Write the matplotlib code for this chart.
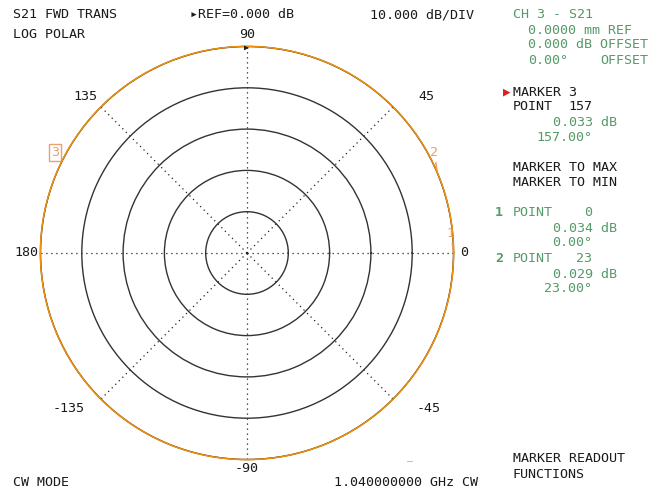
import numpy as np
import matplotlib
matplotlib.use('Agg')
import matplotlib.pyplot as plt

W, H = 652, 488

# trace: S21 magnitude (dB) vs phase (deg), CW mode
trace_deg = [0, 23, 45, 90, 135, 157, 180, 225, 270, 315, 360]
trace_db = [0.034, 0.029, 0.031, 0.030, 0.032, 0.033, 0.032, 0.031, 0.030, 0.032, 0.034]

marker_ids = [1, 2, 3]
marker_points = [0, 23, 157]
marker_db = [0.034, 0.029, 0.033]
marker_deg = [0.0, 23.0, 157.0]

ref_db = 0.0
db_per_div = 10.0
n_div = 5

angle_labels = ['0', '45', '90', '135', '180', '-135', '-90', '-45']

BLACK = '#1a1a1a'
GREEN = '#559a68'
ORANGE = '#f0900a'
ORANGE_TXT = '#eaa070'
MONO = ['DejaVu Sans Mono', 'DejaVu Sans']
FS = 9.6


def px(x, y):
    return x / W, 1 - y / H


def txt(x, y, s, color=BLACK, ha='left', **kw):
    fx, fy = px(x, y)
    fig.text(fx, fy, s, color=color, ha=ha, va='center',
             family=MONO, fontsize=FS, **kw)


fig = plt.figure(figsize=(W / 100, H / 100), dpi=100)
cx, cy, R = 247, 253, 206.5
left, top = px(cx - R, cy - R)
ax = fig.add_axes([left, top - 2 * R / H, 2 * R / W, 2 * R / H], projection='polar')

ax.set_ylim(ref_db - n_div * db_per_div, ref_db)
ax.set_yticks([ref_db - k * db_per_div for k in range(1, n_div)])
ax.set_xticks(np.deg2rad(np.arange(0, 360, 45)))
ax.set_xticklabels([])
ax.set_yticklabels([])
ax.yaxis.grid(True, color='#333333', linestyle='-', linewidth=1.0)
ax.xaxis.grid(True, color='#222222', linestyle=(0, (1, 3)), linewidth=0.9)
ax.tick_params(length=0)
ax.spines['polar'].set_color(BLACK)
ax.spines['polar'].set_linewidth(1.0)

line, = ax.plot(np.deg2rad(trace_deg), trace_db, color=ORANGE, lw=1.1,
                clip_on=False, zorder=5)
line.get_path()._interpolation_steps = 60

for mid, mdeg, mdb in zip(marker_ids, marker_deg, marker_db):
    th = np.deg2rad(mdeg)
    if mid == 3:
        ax.annotate(str(mid), xy=(th, mdb), xytext=(-1, 14), textcoords='offset points',
                    ha='center', va='center', color=ORANGE_TXT, family=MONO, fontsize=FS,
                    annotation_clip=False,
                    bbox=dict(boxstyle='square,pad=0.15', fc='none', ec=ORANGE_TXT, lw=1.0))
    else:
        ax.annotate(str(mid), xy=(th, mdb), xytext=(-2, 14), textcoords='offset points',
                    ha='center', va='center', color=ORANGE_TXT, family=MONO, fontsize=FS,
                    annotation_clip=False,
                    arrowprops=dict(arrowstyle='-', color=ORANGE_TXT, lw=1.2,
                                    shrinkA=0.5, shrinkB=0.5))

# angle labels
txt(460, 253, angle_labels[0])
txt(418, 97, angle_labels[1])
txt(247, 35, angle_labels[2], ha='center')
txt(73, 97, angle_labels[3])
txt(14, 252, angle_labels[4])
txt(53, 408, angle_labels[5])
txt(247, 468, angle_labels[6], ha='center')
txt(417, 408, angle_labels[7])

# ref arrow at top
fx, fy = px(246, 47)
fig.text(fx, fy, '\u25b6', color=BLACK, ha='center', va='center', fontsize=6, family=MONO)

# header
txt(13, 15, 'S21 FWD TRANS')
txt(13, 35, 'LOG POLAR')
txt(190, 15, '\u25b8REF=%.3f dB' % ref_db)
txt(370, 15, '%.3f dB/DIV' % db_per_div)

# right panel
txt(513, 15, 'CH 3 - S21', color=GREEN)
txt(528, 30, '0.0000 mm REF', color=GREEN)
txt(528, 45, '0.000 dB OFFSET', color=GREEN)
txt(528, 60, '0.00\u00b0', color=GREEN)
txt(648, 60, 'OFFSET', color=GREEN, ha='right')

fx, fy = px(507, 92)
fig.text(fx, fy, '\u25b6', color='#e02020', ha='center', va='center', fontsize=9, family=MONO)
txt(513, 92, 'MARKER %d' % marker_ids[2])
txt(513, 107, 'POINT')
txt(592, 107, str(marker_points[2]), ha='right')
txt(553, 122, '%.3f dB' % marker_db[2], color=GREEN)
txt(592, 137, '%.2f\u00b0' % marker_deg[2], color=GREEN, ha='right')

txt(513, 168, 'MARKER TO MAX')
txt(513, 183, 'MARKER TO MIN')

for i, yy in zip(range(2), [213, 259]):
    txt(495, yy, str(marker_ids[i]), color=GREEN, fontweight='bold')
    txt(513, yy, 'POINT', color=GREEN)
    txt(592, yy, str(marker_points[i]), color=GREEN, ha='right')
    txt(553, yy + 15, '%.3f dB' % marker_db[i], color=GREEN)
    txt(592, yy + 30, '%.2f\u00b0' % marker_deg[i], color=GREEN, ha='right')

fx, fy = px(410, 461)
fig.text(fx, fy, '\u2013', color=ORANGE_TXT, ha='center', va='center', fontsize=7, family=MONO)

txt(513, 459, 'MARKER READOUT')
txt(513, 475, 'FUNCTIONS')
txt(13, 483, 'CW MODE')
txt(478, 483, '1.040000000 GHz CW', ha='right')

fig.savefig('out.png', dpi=100)
